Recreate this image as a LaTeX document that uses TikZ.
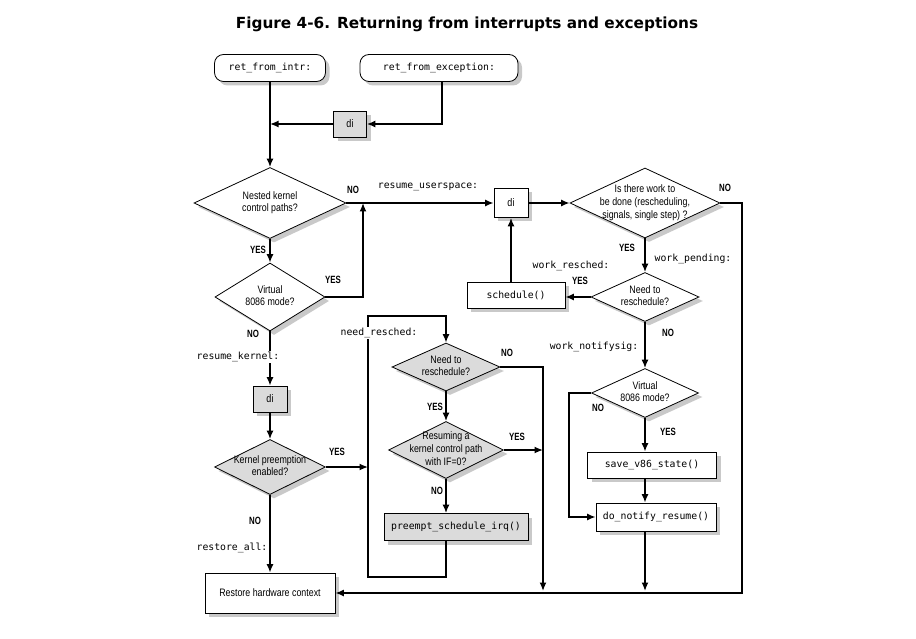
\documentclass[tikz,border=0pt]{standalone}
\usepackage{fontspec}
\setmainfont{Liberation Sans}
\newfontfamily\condfont[FakeStretch=0.82]{Liberation Sans}
\newfontfamily\yesnofont[FakeStretch=0.75]{Liberation Sans}
\newfontfamily\codefont{DejaVu Sans Mono}
\newfontfamily\titlefont{DejaVu Sans}
\usetikzlibrary{shapes.geometric,arrows.meta,shadows}
\newcommand{\dtxt}[1]{\smash{\makebox[0pt]{\raisebox{-2.6pt}{\begin{tabular}{@{}c@{}}#1\end{tabular}}}}}
\tikzset{
  shad/.style={drop shadow={shadow xshift=4pt,shadow yshift=-4pt,opacity=.35,fill=black!60}},
  term/.style={draw, line width=0.8pt, rounded corners=9pt, fill=white, shad, inner sep=0pt,
    font=\codefont\fontsize{9.8}{12}\selectfont},
  proc/.style={draw, line width=0.8pt, fill=white, shad, inner sep=0pt,
    font=\codefont\fontsize{9.8}{12}\selectfont},
  procg/.style={proc, fill=black!14},
  dibox/.style={proc, font=\condfont\fontsize{11}{13}\selectfont},
  dec/.style={diamond, draw, line width=0.8pt, fill=white, shad, inner sep=0pt,
    font=\condfont\fontsize{10.8}{12.8}\selectfont},
  decg/.style={dec, fill=black!14},
  yn/.style={font=\yesnofont\bfseries\fontsize{10.5}{12}\selectfont, inner sep=0pt},
  lbl/.style={font=\codefont\fontsize{9.8}{12}\selectfont, inner sep=1pt, fill=white},
  conn/.style={line width=1.5pt, -{Latex[length=8.5pt,width=7pt]}},
}
\begin{document}
\begin{tikzpicture}[x=1pt,y=-1pt]
\path[use as bounding box, fill=white] (0,0) rectangle (916,639);

\node[font=\titlefont\bfseries\fontsize{15.3}{18}\selectfont] (title) at (467,24) {Figure 4-6. Returning from interrupts and exceptions};

% entry points
\node[term, minimum width=111pt, minimum height=27pt] (intr) at (270,68) {ret\_from\_intr:};
\node[term, minimum width=158pt, minimum height=27pt] (exc) at (439,68) {ret\_from\_exception:};
\node[dibox, fill=black!14, minimum width=33pt, minimum height=26pt] (di1) at (350,124) {di};

% left column
\node[dec, minimum width=152pt, minimum height=71pt] (nested) at (270,203) {\dtxt{Nested kernel\\control paths?}};
\node[dec, minimum width=110pt, minimum height=68pt] (virt1) at (270,297) {\dtxt{Virtual\\8086 mode?}};
\node[dibox, fill=black!14, minimum width=34pt, minimum height=26pt] (di3) at (270,399) {di};
\node[decg, minimum width=111pt, minimum height=55pt] (kern) at (270,467) {\dtxt{Kernel preemption\\enabled?}};
\node[proc, font=\condfont\fontsize{10.8}{12.8}\selectfont, minimum width=130pt, minimum height=40pt] (restore) at (270,593) {Restore hardware context};

% middle column
\node[decg, minimum width=108pt, minimum height=48pt] (need1) at (446,367) {\dtxt{Need to\\reschedule?}};
\node[decg, minimum width=115pt, minimum height=57pt] (resum) at (446,450) {\dtxt{Resuming a\\kernel control path\\with IF=0?}};
\node[procg, minimum width=144pt, minimum height=27pt] (preempt) at (456,527) {preempt\_schedule\_irq()};

% right part
\node[dibox, minimum width=34pt, minimum height=29pt] (di2) at (511,203) {di};
\node[dec, minimum width=150pt, minimum height=70pt] (work) at (645,203) {\dtxt{Is there work to\\be done (rescheduling,\\signals, single step) ?}};
\node[dec, minimum width=108pt, minimum height=49pt] (need2) at (645,297) {\dtxt{Need to\\reschedule?}};
\node[proc, minimum width=98pt, minimum height=26pt] (sched) at (516,295) {schedule()};
\node[dec, minimum width=107pt, minimum height=49pt] (virt2) at (645,393) {\dtxt{Virtual\\8086 mode?}};
\node[proc, minimum width=129pt, minimum height=26pt] (save) at (652,465) {save\_v86\_state()};
\node[proc, minimum width=120pt, minimum height=28pt] (donot) at (656,517) {do\_notify\_resume()};

% helper coordinates
\coordinate (jv) at (363,297);
\coordinate (loopT) at (368,316);
\coordinate (loopB) at (368,577);
\coordinate (kernR) at (368,467);
\coordinate (colR) at (543,367);
\coordinate (colRend) at (543,591);
\coordinate (resR) at (543,450);
\coordinate (farR) at (742,203);
\coordinate (farB) at (742,593);
\coordinate (vL) at (569,393);
\coordinate (endR) at (645,591);
\coordinate (preB) at (446,540.5);

% connectors
\draw[conn] (intr.south) -- (nested.north);
\draw[conn] (exc.south -| 442,0) |- (di1.east);
\draw[conn] (di1.west) -- (di1.west -| intr.south);
\draw[conn] (nested.east) -- (di2.west);
\draw[conn] (nested.south) -- (virt1.north);
\draw[conn] (virt1.east) -- (jv) -- (jv |- nested.east);
\draw[conn] (virt1.south) -- (di3.north);
\draw[conn] (di3.south) -- (kern.north);
\draw[conn] (kern.east) -- (kernR);
\draw[conn] (kern.south) -- (restore.north);
\draw[conn] (preB) |- (loopB) -- (loopT) -| (need1.north);
\draw[conn] (need1.east) -- (colR) -- (colRend);
\draw[conn] (need1.south) -- (resum.north);
\draw[conn] (resum.east) -- (resR);
\draw[conn] (resum.south) -- (resum.south |- preempt.north);
\draw[conn] (di2.east) -- (work.west);
\draw[conn] (work.east) -- (farR) -- (farB) -- (restore.east |- farB);
\draw[conn] (work.south) -- (need2.north);
\draw[conn] (need2.west) -- (sched.east |- need2.west);
\draw[conn] (sched.north -| di2.south) -- (di2.south);
\draw[conn] (need2.south) -- (virt2.north);
\draw[conn] (virt2.west) -- (vL) |- (donot.west);
\draw[conn] (virt2.south) -- (virt2.south |- save.north);
\draw[conn] (save.south -| virt2.south) -- (virt2.south |- donot.north);
\draw[conn] (donot.south -| virt2.south) -- (endR);

% YES / NO labels
\node[yn] (n1) at (353,190) {NO};
\node[yn] (y1) at (258,250) {YES};
\node[yn] (y2) at (333,280) {YES};
\node[yn] (n2) at (253,334) {NO};
\node[yn] (y3) at (337,452) {YES};
\node[yn] (n3) at (255,521) {NO};
\node[yn] (n4) at (507,353) {NO};
\node[yn] (y4) at (435,407) {YES};
\node[yn] (y5) at (517,437) {YES};
\node[yn] (n5) at (437,491) {NO};
\node[yn] (n6) at (725,188) {NO};
\node[yn] (y6) at (627,248) {YES};
\node[yn] (y7) at (580,281) {YES};
\node[yn] (n7) at (668,333) {NO};
\node[yn] (n8) at (598,408) {NO};
\node[yn] (y8) at (668,432) {YES};

% code labels
\node[lbl] (lus) at (428,187) {resume\_userspace:};
\node[lbl] (lwr) at (571,266) {work\_resched:};
\node[lbl] (lwp) at (693,259) {work\_pending:};
\node[lbl] (lwn) at (594,347) {work\_notifysig:};
\node[lbl] (lnr) at (379,333) {need\_resched:};
\node[lbl] (lrk) at (238,357) {resume\_kernel:};
\node[lbl] (lra) at (232,548) {restore\_all:};
\end{tikzpicture}
\end{document}
